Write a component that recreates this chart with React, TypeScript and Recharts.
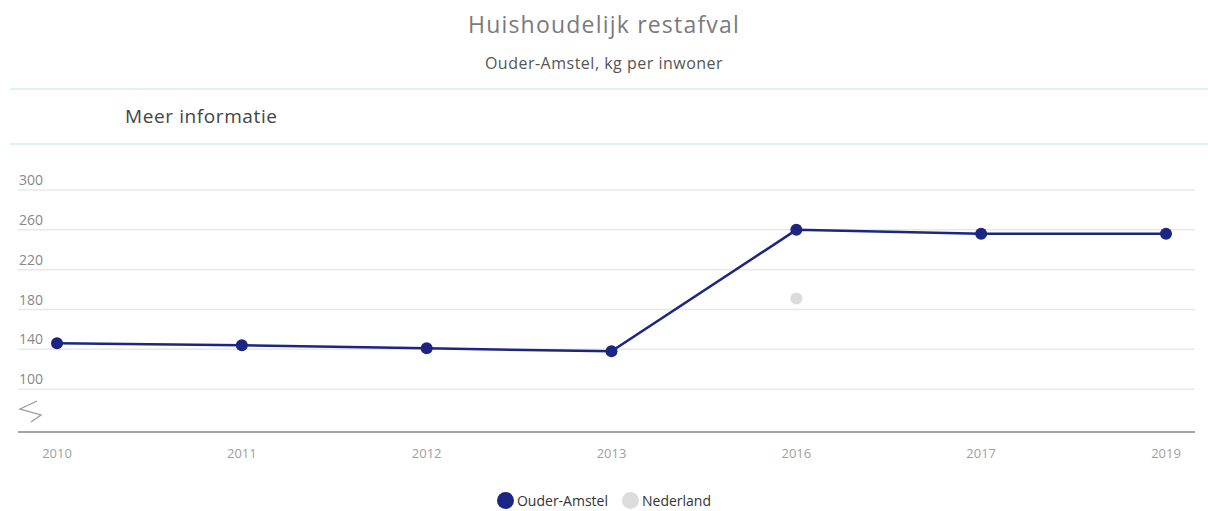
import React from "react";
import { LineChart, Line, XAxis, YAxis, CartesianGrid } from "recharts";

const years = ["2010", "2011", "2012", "2013", "2016", "2017", "2019"];
const ouderAmstel = [146, 144, 141, 138, 260, 256, 256];
const nederland = [null, null, null, null, 191, null, null];
const yTicks = [100, 140, 180, 220, 260, 300];

const data = years.map((y, i) => ({ jaar: y, ouderAmstel: ouderAmstel[i], nederland: nederland[i] }));

const NAVY = "#1c2581";
const GREY_DOT = "#dcdcdc";

const renderYTick = (props: any) => (
  <text key={props.payload?.value} x={19} y={props.y - 5} fill="#888" fontSize={14} fontFamily="'Open Sans', sans-serif">
    {props.payload?.value}
  </text>
);

export default function App() {
  return (
    <div style={{ position: "relative", width: 1208, height: 511, background: "#fff", fontFamily: "'Open Sans', sans-serif" }}>
      <style>{`body{margin:0}`}</style>
      {/* header */}
      <div style={{ position: "absolute", top: 8, left: 0, width: 1208, textAlign: "center", fontSize: 23, color: "#7a7a7a", letterSpacing: 1.2 }}>
        Huishoudelijk restafval
      </div>
      <div style={{ position: "absolute", top: 52, left: 0, width: 1208, textAlign: "center", fontSize: 16, color: "#555", letterSpacing: 0.5 }}>
        Ouder-Amstel, kg per inwoner
      </div>
      <div style={{ position: "absolute", top: 88, left: 10, width: 1198, height: 2, background: "#e2f2f3" }} />
      <div style={{ position: "absolute", top: 103, left: 125, fontSize: 19, color: "#444", letterSpacing: 0.6 }}>
        Meer informatie
      </div>
      <div style={{ position: "absolute", top: 143, left: 10, width: 1198, height: 2, background: "#e2f2f3" }} />

      <div style={{ position: "absolute", top: 170, left: 0 }}>
        <LineChart width={1208} height={300} data={data} margin={{ top: 20, right: 13, bottom: 0, left: 17 }}>
          <CartesianGrid vertical={false} stroke="#e8e8e8" strokeWidth={1.5} />
          <XAxis
            dataKey="jaar"
            padding={{ left: 39, right: 29 }}
            axisLine={{ stroke: "#8c8c8c", strokeWidth: 1.5 }}
            tickLine={false}
            height={38}
            tick={{ fill: "#a0a0a0", fontSize: 13 }}
            tickMargin={11}
          />
          <YAxis
            width={1}
            domain={[57, 300]}
            ticks={yTicks}
            allowDataOverflow
            axisLine={false}
            tickLine={false}
            tick={renderYTick}
          />
          <Line
            dataKey="ouderAmstel"
            stroke={NAVY}
            strokeWidth={2.5}
            dot={{ r: 6, fill: NAVY, stroke: NAVY, strokeWidth: 0 }}
            isAnimationActive={false}
          />
          <Line
            dataKey="nederland"
            stroke="none"
            dot={{ r: 6, fill: GREY_DOT, stroke: GREY_DOT, strokeWidth: 0 }}
            isAnimationActive={false}
          />
        </LineChart>
      </div>

      {/* broken axis marker */}
      <svg style={{ position: "absolute", top: 396, left: 14 }} width={32} height={30}>
        <path d="M23 5 L6 13 L27 19 L17 26" fill="none" stroke="#999" strokeWidth={1.3} />
      </svg>

      {/* legend */}
      <div style={{ position: "absolute", top: 491, left: 0, width: 1208, display: "flex", justifyContent: "center", gap: 14, fontSize: 14, color: "#333" }}>
        <span style={{ display: "flex", alignItems: "center", gap: 3 }}>
          <span style={{ width: 17, height: 17, borderRadius: "50%", background: NAVY, display: "inline-block" }} />
          Ouder-Amstel
        </span>
        <span style={{ display: "flex", alignItems: "center", gap: 3 }}>
          <span style={{ width: 17, height: 17, borderRadius: "50%", background: GREY_DOT, display: "inline-block" }} />
          Nederland
        </span>
      </div>
    </div>
  );
}
